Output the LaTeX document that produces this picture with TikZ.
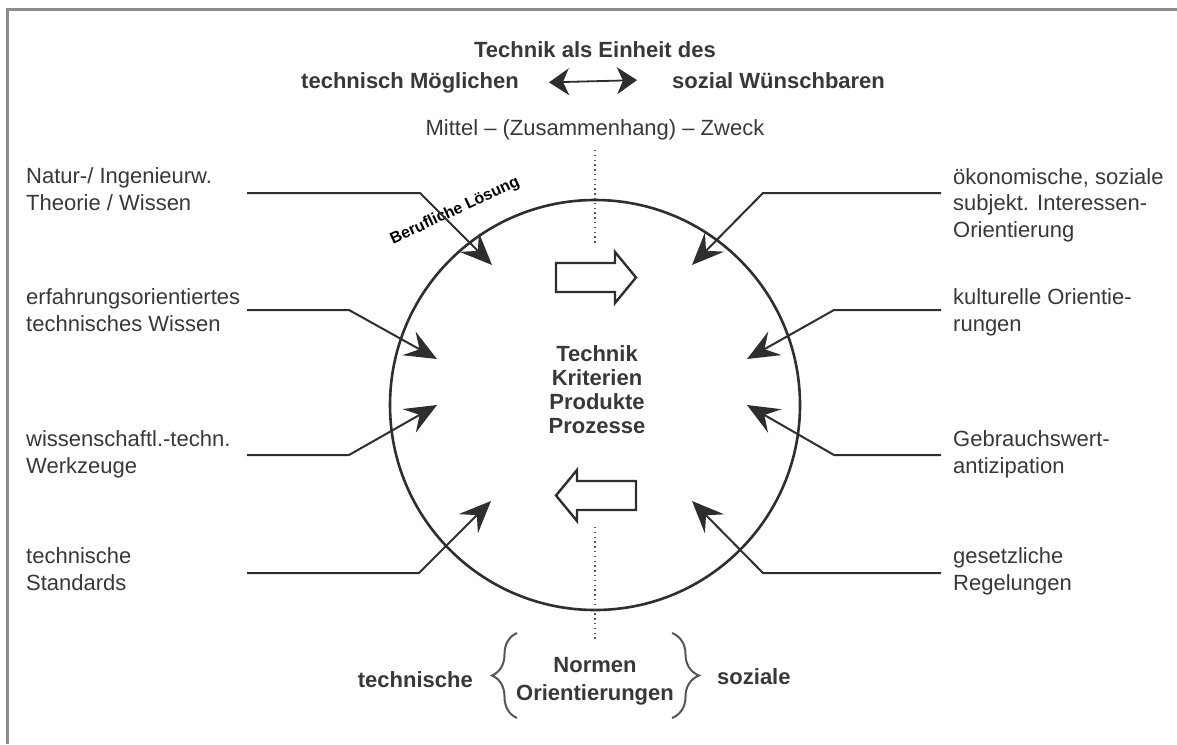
\documentclass[tikz,border=0pt]{standalone}
\usepackage{fontspec}
\setmainfont{Liberation Sans}
\usetikzlibrary{arrows.meta,decorations.pathreplacing}
\definecolor{ink}{HTML}{2E2E2E}
\definecolor{txt}{HTML}{383838}
\definecolor{rim}{HTML}{8C8C8C}
\definecolor{dots}{HTML}{555555}
\begin{document}
\begin{tikzpicture}[x=1pt,y=-1pt,
  lbl/.style={align=left, inner sep=0pt, text=txt, font=\fontsize{22}{26.5}\selectfont},
  head/.style={inner sep=0pt, text=txt, font=\bfseries\fontsize{22}{28}\selectfont},
  plain/.style={inner sep=0pt, text=txt, font=\fontsize{22}{26}\selectfont},
  feed/.style={draw=ink, line width=2pt, line join=round,
    -{Stealth[length=32pt,width=27pt,inset=12pt]}},
  blockarrow/.style={draw=ink, line width=2.4pt, fill=white, line join=miter},
  dotline/.style={draw=dots, line width=1.6pt, dash pattern=on 1.4pt off 3.4pt},
  bracket/.style={draw=dots, line width=2pt, decorate},
]
\useasboundingbox (0,0) rectangle (1177,744);

% frame edges (top and left)
\draw[rim, line width=3pt] (1177,9.5) -- (7.5,9.5) -- (7.5,744);

% heading
\node[head, anchor=base] (ttl) at (595,57) {Technik als Einheit des};
\node[head, anchor=base east] (tm) at (519,88) {technisch Möglichen};
\node[head, anchor=base west] (sw) at (672,88) {sozial Wünschbaren};
\draw[line width=1.8pt, draw=ink,
  {Stealth[length=20pt,width=27pt,inset=6pt]}-{Stealth[length=20pt,width=27pt,inset=6pt]}]
  ([xshift=30pt]tm.east) -- ([xshift=-35pt]sw.west);
\node[plain, anchor=base] (mz) at (595,135) {Mittel – (Zusammenhang) – Zweck};

% central disc
\node[draw=ink, line width=2.6pt, circle, minimum size=410pt, inner sep=0pt] (disc) at (595,405) {};
\node[rotate=25, inner sep=0pt, text=black, font=\bfseries\fontsize{16}{16}\selectfont]
  (beruf) at (455,211) {Berufliche Lösung};

% dotted axis
\coordinate (d1) at (595,150);
\coordinate (d2) at (595,246);
\coordinate (d3) at (595,527);
\coordinate (d4) at (595,640);
\draw[dotline] (d1) -- (d2);
\draw[dotline] (d3) -- (d4);

% block arrows
\draw[blockarrow] (556,263) -- (615,263) -- (615,252) -- (636,277.5) -- (615,303)
  -- (615,292) -- (556,292) -- cycle;
\draw[blockarrow] (636,481) -- (577,481) -- (577,470) -- (556,495.5) -- (577,521)
  -- (577,510) -- (636,510) -- cycle;

\node[head, align=center, font=\bfseries\fontsize{22}{24}\selectfont] (core) at (597,390)
  {Technik\\Kriterien\\Produkte\\Prozesse};

% left influences (anchored at the baseline of the last line)
\node[lbl, anchor=base west] (l1) at (26,210) {Natur-/ Ingenieurw.\\Theorie / Wissen};
\node[lbl, anchor=base west] (l2) at (26,331) {erfahrungsorientiertes\\technisches Wissen};
\node[lbl, anchor=base west] (l3) at (26,473) {wissenschaftl.-techn.\\Werkzeuge};
\node[lbl, anchor=base west] (l4) at (26,590) {technische\\Standards};

\coordinate (l1a) at (247,193); \coordinate (l1b) at (420,193); \coordinate (l1t) at (492,265);
\coordinate (l2a) at (247,310); \coordinate (l2b) at (349,310); \coordinate (l2t) at (437,359);
\coordinate (l3a) at (247,455); \coordinate (l3b) at (349,455); \coordinate (l3t) at (437,405);
\coordinate (l4a) at (247,573); \coordinate (l4b) at (419,573); \coordinate (l4t) at (491,501);
\draw[feed] (l1a) -- (l1b) -- (l1t);
\draw[feed] (l2a) -- (l2b) -- (l2t);
\draw[feed] (l3a) -- (l3b) -- (l3t);
\draw[feed] (l4a) -- (l4b) -- (l4t);

% right influences
\node[lbl, anchor=base west] (r1) at (953,237) {ökonomische, soziale\\subjekt. Interessen-\\Orientierung};
\node[lbl, anchor=base west] (r2) at (953,331) {kulturelle Orientie-\\rungen};
\node[lbl, anchor=base west] (r3) at (953,473) {Gebrauchswert-\\antizipation};
\node[lbl, anchor=base west] (r4) at (953,590) {gesetzliche\\Regelungen};

\coordinate (r1a) at (941,193); \coordinate (r1b) at (763,193); \coordinate (r1t) at (692,265);
\coordinate (r2a) at (941,310); \coordinate (r2b) at (834,310); \coordinate (r2t) at (747,359);
\coordinate (r3a) at (941,455); \coordinate (r3b) at (834,455); \coordinate (r3t) at (747,405);
\coordinate (r4a) at (941,573); \coordinate (r4b) at (763,573); \coordinate (r4t) at (692,501);
\draw[feed] (r1a) -- (r1b) -- (r1t);
\draw[feed] (r2a) -- (r2b) -- (r2t);
\draw[feed] (r3a) -- (r3b) -- (r3t);
\draw[feed] (r4a) -- (r4b) -- (r4t);

% norms at the bottom
\node[head, anchor=base east] (tn) at (473,687) {technische};
\node[head, align=center, anchor=base] (no) at (595,700) {Normen\\Orientierungen};
\node[head, anchor=base west] (so) at (717,684) {soziale};
\coordinate (bl1) at (517,718); \coordinate (bl2) at (517,633);
\coordinate (br1) at (672,633); \coordinate (br2) at (672,718);
\draw[bracket, decoration={brace, amplitude=25pt}] (bl1) -- (bl2);
\draw[bracket, decoration={brace, amplitude=27pt}] (br1) -- (br2);
\end{tikzpicture}
\end{document}
